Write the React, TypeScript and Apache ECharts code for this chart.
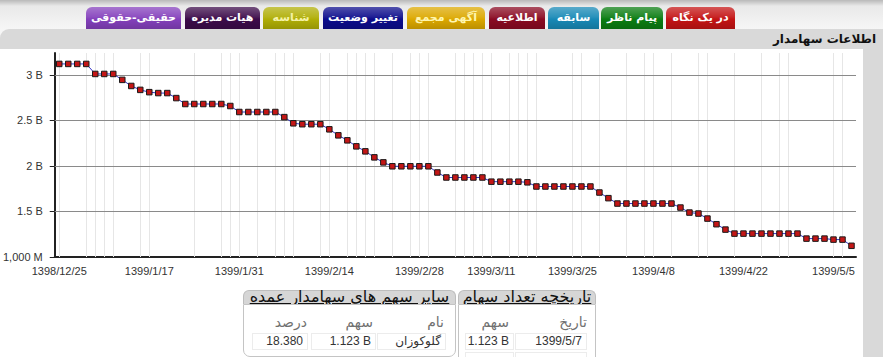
import React, { useEffect, useRef } from "react";
import * as echarts from "echarts";

// Shareholder's share count per trading day (billions of shares)
const shareValuesB: number[] = [
  3.12, 3.12, 3.12, 3.12,
  3.01, 3.01, 3.01,
  2.945, 2.878, 2.835, 2.81, 2.8, 2.8, 2.745,
  2.68, 2.68, 2.68, 2.68, 2.68,
  2.658,
  2.592, 2.592, 2.592, 2.592, 2.592,
  2.536, 2.468,
  2.458, 2.458, 2.458,
  2.402, 2.336, 2.281, 2.215, 2.16, 2.094, 2.039,
  1.996, 1.996, 1.996, 1.996, 1.996,
  1.928,
  1.873, 1.873, 1.873, 1.873, 1.873,
  1.827, 1.827, 1.827, 1.827,
  1.82,
  1.774, 1.774, 1.774, 1.774, 1.774, 1.774, 1.774,
  1.708, 1.646,
  1.587, 1.587, 1.587, 1.587, 1.587, 1.587, 1.587,
  1.543, 1.488, 1.477, 1.422, 1.36, 1.301,
  1.257, 1.257, 1.257, 1.257, 1.257, 1.257, 1.257, 1.257,
  1.202, 1.202, 1.202,
  1.191, 1.191,
  1.123,
];

const dateLabelIndex = [0, 10, 20, 30, 40, 48, 57, 66, 76, 86];
const dateLabels = [
  "1398/12/25", "1399/1/17", "1399/1/31", "1399/2/14", "1399/2/28",
  "1399/3/11", "1399/3/25", "1399/4/8", "1399/4/22", "1399/5/5",
];
const weekTickIndex = [0, 5, 10, 15, 20, 25, 30, 35, 40, 45, 48, 52, 57, 61, 66, 71, 76, 81, 86];
const dayGridIndex = [
  0, 3, 4, 5, 6, 9, 10, 15, 18, 19, 20, 22, 24, 25, 26, 29, 30, 32, 33, 34, 35, 37, 39, 40, 41,
  44, 45, 46, 47, 48, 50, 51, 52, 53, 57, 58, 60, 63, 65, 66, 68, 71, 72, 75, 78, 80, 81, 86, 87,
];
const yTickValues = [1, 1.5, 2, 2.5, 3];
const yTickLabels = ["1,000 M", "1.5 B", "2 B", "2.5 B", "3 B"];

const tabLabels = ["در یک نگاه", "پیام ناظر", "سابقه", "اطلاعیه", "آگهی مجمع", "تغییر وضعیت", "شناسه", "هیات مدیره", "حقیقی-حقوقی"];
const tabColors = ["#c41414", "#0b7d12", "#1889b6", "#8a0a22", "#dca800", "#0c0c8c", "#b0ae06", "#3c0b4a", "#8440bc"];
const tabTextColors = ["#fff", "#fff", "#fff", "#fff", "#fff6b0", "#fff", "#f4f2a8", "#fff", "#fff"];
const tabBoxes = [
  [666, 69], [601, 62], [548, 51], [489, 56], [407, 78], [323, 80], [263, 56], [185, 75], [86, 95],
];

const historyDates = ["1399/5/7"];
const historyShares = ["1.123 B"];
const otherNames = ["گلوکوزان"];
const otherShares = ["1.123 B"];
const otherPercents = ["18.380"];

const FA = '"Liberation Sans", "DejaVu Sans", sans-serif';

function Chart() {
  const ref = useRef<HTMLDivElement>(null);
  useEffect(() => {
    if (!ref.current) return;
    const chart = echarts.init(ref.current, undefined, { renderer: "svg" });
    const cats = shareValuesB.map((_, i) => String(i));
    const tickSet = new Set(weekTickIndex);
    const labelSet = new Set(dateLabelIndex);
    chart.setOption({
      animation: false,
      grid: { left: 54, top: 5, width: 802, height: 204, containLabel: false },
      xAxis: {
        type: "category",
        data: cats,
        boundaryGap: true,
        axisLine: { lineStyle: { color: "#222", width: 2 } },
        axisTick: {
          alignWithLabel: true,
          interval: (i: number) => tickSet.has(i),
          length: 6,
          lineStyle: { color: "#222", width: 1 },
        },
        axisLabel: {
          interval: (i: number) => labelSet.has(i),
          formatter: (_v: string, i: number) => {
            const k = dateLabelIndex.indexOf(i);
            return k >= 0 ? dateLabels[k] : "";
          },
          color: "#333",
          fontSize: 11,
          fontFamily: '"Liberation Sans", Arial, sans-serif',
          margin: 8,
        },
        splitLine: { show: false },
      },
      yAxis: {
        type: "value",
        min: 1,
        max: 3.24,
        interval: 0.5,
        axisLine: { show: true, lineStyle: { color: "#222", width: 2 } },
        axisTick: { show: true, length: 5, customValues: yTickValues, lineStyle: { color: "#222" } },
        axisLabel: {
          customValues: yTickValues,
          formatter: (v: number) => {
            const k = yTickValues.findIndex((t) => Math.abs(t - v) < 1e-6);
            return k >= 0 ? yTickLabels[k] : "";
          },
          color: "#333",
          fontSize: 11,
          fontFamily: '"Liberation Sans", Arial, sans-serif',
          margin: 12,
        },
        splitLine: { show: false },
      },
      series: [
        {
          type: "line",
          z: 1,
          data: shareValuesB,
          symbol: "none",
          silent: true,
          lineStyle: { opacity: 0 },
          markLine: {
            z: 1,
            silent: true,
            symbol: ["none", "none"],
            label: { show: false },
            emphasis: { disabled: true },
            data: [
              ...dayGridIndex.map((i) => ({
                xAxis: String(i),
                lineStyle: { color: "#e6e6e6", width: 1, type: "solid" },
              })),
              ...yTickValues.slice(1).map((v) => ({
                yAxis: v,
                lineStyle: { color: "#8a8a8a", width: 1, type: "solid" },
              })),
            ],
          },
        },
        {
          type: "line",
          z: 5,
          data: shareValuesB,
          symbol: "rect",
          symbolSize: 5.5,
          showAllSymbol: true,
          lineStyle: { color: "#3535c8", width: 1 },
          itemStyle: { color: "#c41616", borderColor: "#1a1a1a", borderWidth: 1 },
        },
      ],
    });
    return () => chart.dispose();
  }, []);
  return <div ref={ref} style={{ position: "absolute", left: 0, top: 48, width: 863, height: 240 }} />;
}

const cell = (left: number, width: number, top: number, text: string, extra: React.CSSProperties = {}) => (
  <div
    style={{
      position: "absolute",
      left,
      top,
      width,
      height: 17,
      boxSizing: "border-box",
      border: "1px solid #ececec",
      fontFamily: FA,
      fontSize: 12,
      color: "#333",
      textAlign: "right",
      paddingRight: 4,
      lineHeight: "15px",
      direction: "ltr",
      whiteSpace: "nowrap",
      ...extra,
    }}
  >
    {text}
  </div>
);

const headText = (right: number, top: number, text: string) => (
  <div
    style={{
      position: "absolute",
      right: 883 - right,
      top,
      fontFamily: FA,
      fontSize: 14,
      color: "#707070",
      direction: "rtl",
      whiteSpace: "nowrap",
      lineHeight: "15px",
    }}
  >
    {text}
  </div>
);

const boxTitle: React.CSSProperties = {
  position: "absolute",
  top: 290,
  height: 14,
  boxSizing: "border-box",
  background: "#d6d6d6",
  border: "1px solid #bdbdbd",
  borderBottom: "none",
  borderRadius: "6px 6px 0 0",
  fontFamily: '"DejaVu Sans", sans-serif',
  fontSize: 16,
  lineHeight: "12px",
  color: "#111",
  textAlign: "center",
  textDecoration: "underline",
  direction: "rtl",
  whiteSpace: "nowrap",
  overflow: "visible",
};

export default function App() {
  useEffect(() => {
    document.body.style.margin = "0";
  }, []);
  return (
    <div
      style={{
        position: "relative",
        width: 883,
        height: 357,
        overflow: "hidden",
        background: "linear-gradient(#b9b9b9 0px, #e9e9e9 6px, #f6f6f6 29px)",
      }}
    >
      {tabLabels.map((t, i) => {
        const c = tabColors[i];
        return (
          <div
            key={i}
            style={{
              position: "absolute",
              left: tabBoxes[i][0],
              top: 7,
              width: tabBoxes[i][1],
              height: 22,
              borderRadius: "6px 6px 0 0",
              background: `linear-gradient(rgba(255,255,255,0.28) 0%, rgba(255,255,255,0.08) 45%, rgba(0,0,0,0) 55%, rgba(0,0,0,0.15) 100%), ${c}`,
              color: tabTextColors[i],
              fontFamily: '"DejaVu Sans", sans-serif',
              fontWeight: "bold",
              fontSize: 11,
              lineHeight: "22px",
              textAlign: "center",
              direction: "rtl",
              whiteSpace: "nowrap",
              overflow: "hidden",
            }}
          >
            {t}
          </div>
        );
      })}
      <div
        style={{
          position: "absolute",
          left: 0,
          top: 29,
          width: 883,
          height: 340,
          background: "#d9d9d9",
          borderTopLeftRadius: 9,
        }}
      />
      <div
        style={{
          position: "absolute",
          right: 7,
          top: 31,
          fontFamily: '"DejaVu Sans", sans-serif',
          fontWeight: "bold",
          fontSize: 12,
          color: "#111",
          direction: "rtl",
          lineHeight: "17px",
        }}
      >
        اطلاعات سهامدار
      </div>
      <div style={{ position: "absolute", left: 0, top: 49, width: 863, height: 320, background: "#fff" }} />
      <Chart />

      {/* Share count history box */}
      <div style={{ ...boxTitle, left: 458, width: 138 }}>تاریخچه تعداد سهام</div>
      <div
        style={{
          position: "absolute",
          left: 458,
          top: 304,
          width: 138,
          height: 70,
          boxSizing: "border-box",
          background: "#fff",
          border: "1px solid #c4c4c4",
          borderRadius: "0 0 6px 6px",
        }}
      />
      {headText(587, 315, "تاریخ")}
      {headText(509, 315, "سهم")}
      {historyDates.map((d, i) => cell(515, 72, 333 + i * 19, d))}
      {historyShares.map((s, i) => cell(465, 49, 333 + i * 19, s))}
      {cell(515, 72, 352, "")}
      {cell(465, 49, 352, "")}

      {/* Other holdings box */}
      <div style={{ ...boxTitle, left: 243, width: 213 }}>سایر سهم های سهامدار عمده</div>
      <div
        style={{
          position: "absolute",
          left: 243,
          top: 304,
          width: 213,
          height: 53,
          boxSizing: "border-box",
          background: "#fff",
          border: "1px solid #c4c4c4",
          borderRadius: "0 0 7px 7px",
        }}
      />
      {headText(444, 315, "نام")}
      {headText(373, 315, "سهم")}
      {headText(307, 315, "درصد")}
      {otherNames.map((n, i) => cell(377, 69, 333 + i * 19, n, { direction: "rtl", textAlign: "right" }))}
      {otherShares.map((s, i) => cell(311, 65, 333 + i * 19, s))}
      {otherPercents.map((p, i) => cell(252, 56, 333 + i * 19, p))}
    </div>
  );
}
